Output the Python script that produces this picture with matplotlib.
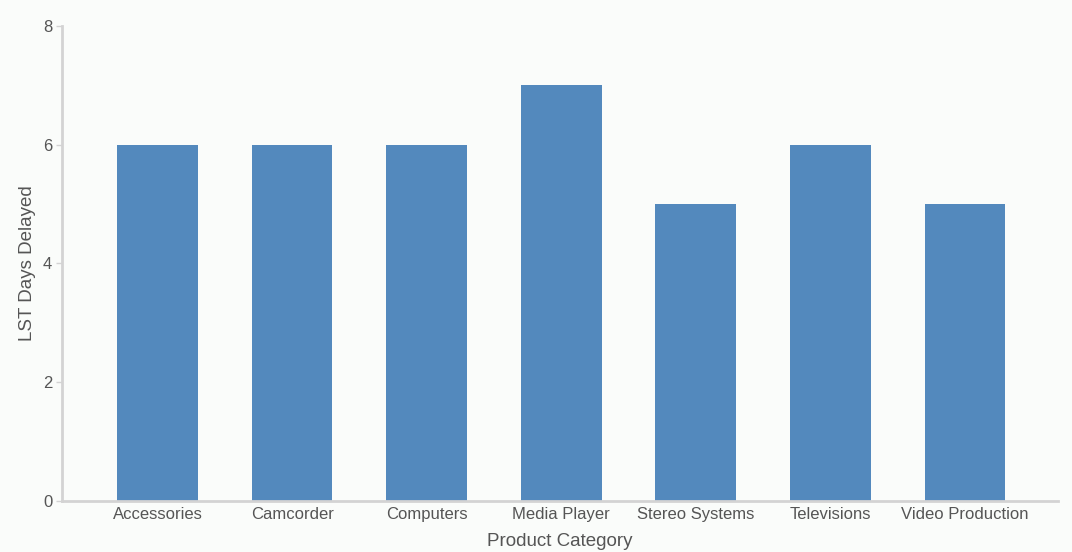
import matplotlib.pyplot as plt

# chart data
categories = ['Accessories', 'Camcorder', 'Computers', 'Media Player',
              'Stereo Systems', 'Televisions', 'Video Production']
days_delayed = [6, 6, 6, 7, 5, 6, 5]
y_ticks = [0, 2, 4, 6, 8]

plt.rcParams['font.family'] = ['Liberation Sans', 'DejaVu Sans']

fig = plt.figure(figsize=(10.72, 5.52), dpi=100, facecolor='#fafcfa')
ax = fig.add_axes([0.0578, 0.0924, 0.929, 0.8605])
ax.set_facecolor('#fafcfa')

x = range(len(categories))
ax.bar(x, days_delayed, width=0.6, color='#5389bd')

ax.set_xlim(-0.71, 6.69)
ax.set_ylim(0, 8)
ax.set_yticks(y_ticks)
ax.set_xticks(list(x))
ax.set_xticklabels(categories)

for side in ['top', 'right']:
    ax.spines[side].set_visible(False)
for side in ['left', 'bottom']:
    ax.spines[side].set_color('#d3d3d3')
    ax.spines[side].set_linewidth(2)

ax.tick_params(axis='y', length=4, width=1, color='#d3d3d3',
               labelcolor='#555555', labelsize=12, pad=3)
ax.tick_params(axis='x', length=0, labelcolor='#555555', labelsize=12, pad=4)

ax.set_xlabel('Product Category', fontsize=13.5, color='#555555', labelpad=8)
ax.set_ylabel('LST Days Delayed', fontsize=13.5, color='#555555', labelpad=5)

fig.savefig('out.png', dpi=100, facecolor=fig.get_facecolor())
